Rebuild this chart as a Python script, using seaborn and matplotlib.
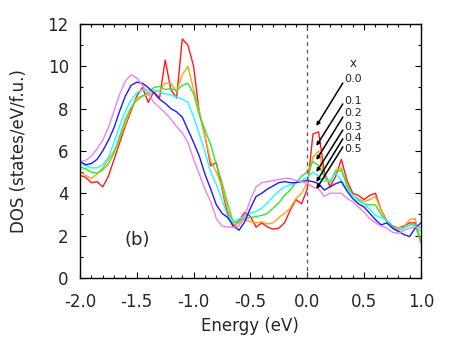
import numpy as np
import pandas as pd
import matplotlib
matplotlib.use('Agg')
import matplotlib.pyplot as plt
from matplotlib.ticker import MultipleLocator, FormatStrFormatter
import seaborn as sns

# energia (eV), paso 0.05
energy = np.round(np.arange(-2.0, 1.0001, 0.05), 2)

dos_00 = [4.85, 4.75, 4.5, 4.55, 4.3, 4.8, 5.6, 6.4, 7.2, 7.9,
          8.6, 9.0, 8.3, 8.8, 8.5, 10.3, 8.9, 8.5, 11.3, 11.0,
          10.0, 7.8, 6.7, 5.3, 5.45, 4.2, 3.0, 2.4, 2.7, 3.1,
          2.9, 2.4, 2.6, 2.4, 2.3, 2.35, 2.6, 3.2, 3.7, 3.5,
          4.2, 6.8, 6.9, 5.0, 4.3, 4.8, 5.6, 4.6, 4.0, 3.9,
          3.7, 3.9, 4.0, 3.2, 2.7, 2.45, 2.35, 2.45, 2.6, 2.6,
          1.7]
dos_01 = [5.0, 4.85, 4.7, 4.9, 5.2, 5.6, 6.0, 6.6, 7.3, 8.0,
          8.5, 8.6, 8.65, 8.8, 8.85, 9.2, 9.2, 8.8, 9.6, 10.0,
          8.9, 7.9, 6.7, 5.5, 5.0, 4.3, 3.2, 2.5, 2.6, 2.75,
          2.65, 2.6, 2.65, 2.55, 2.6, 2.85, 3.05, 3.3, 3.75, 4.0,
          4.5, 5.7, 6.0, 4.7, 4.5, 5.1, 5.2, 4.3, 3.9, 3.75,
          3.6, 3.7, 3.85, 3.2, 2.65, 2.4, 2.35, 2.4, 2.75, 2.8,
          1.7]
dos_02 = [5.25, 5.15, 5.0, 4.95, 5.1, 5.4, 5.9, 6.7, 7.5, 8.05,
          8.4, 8.6, 8.75, 9.0, 9.05, 8.9, 8.95, 8.85, 9.1, 9.2,
          8.7, 7.7, 7.0, 6.3, 5.35, 4.5, 3.5, 2.6, 2.7, 2.8,
          2.85, 2.9, 2.95, 3.05, 3.3, 3.55, 3.9, 4.15, 4.5, 4.8,
          5.0, 5.5, 5.3, 4.8, 4.55, 5.0, 5.1, 4.4, 3.9, 3.65,
          3.5, 3.45, 3.45, 3.0, 2.65, 2.35, 2.2, 2.4, 2.5, 2.5,
          1.65]
dos_03 = [5.4, 5.3, 5.2, 5.2, 5.35, 5.7, 6.4, 7.2, 7.9, 8.4,
          8.75, 8.9, 8.9, 8.9, 8.8, 8.7, 8.65, 8.55, 8.45, 8.3,
          7.6, 6.8, 5.95, 5.0, 4.4, 3.7, 2.9, 2.65, 2.8, 2.9,
          3.05, 3.15, 3.3, 3.55, 3.85, 4.1, 4.3, 4.4, 4.5, 4.6,
          4.75, 5.0, 4.8, 4.55, 4.6, 4.95, 4.6, 4.2, 3.9, 3.7,
          3.5, 3.25, 2.95, 2.85, 2.7, 2.4, 2.25, 2.35, 2.5, 2.45,
          2.2]
dos_04 = [5.5, 5.35, 5.4, 5.6, 6.0, 6.5, 7.1, 7.9, 8.6, 9.1,
          9.25, 9.2, 9.0, 8.75, 8.45, 8.25, 8.0, 7.85, 7.6, 7.0,
          6.4, 5.75, 4.9, 4.2, 3.45, 3.05, 2.85, 2.45, 2.25, 2.65,
          3.3, 3.85, 4.0, 4.2, 4.35, 4.5, 4.55, 4.5, 4.5, 4.55,
          4.6, 4.55, 4.45, 4.15, 4.3, 4.45, 4.55, 4.1, 3.75, 3.5,
          3.35, 3.05, 2.75, 2.5, 2.6, 2.35, 2.2, 2.05, 1.95, 2.35,
          2.6]
dos_05 = [5.5, 5.55, 5.75, 6.1, 6.5, 7.1, 7.9, 8.7, 9.3, 9.6,
          9.45, 9.1, 8.7, 8.3, 8.05, 7.8, 7.5, 7.15, 6.85, 6.4,
          5.6, 4.9, 4.2, 3.6, 2.8, 2.45, 2.4, 2.4, 2.45, 2.95,
          3.7, 4.3, 4.5, 4.55, 4.6, 4.65, 4.7, 4.7, 4.6, 4.55,
          4.45, 4.3, 4.2, 3.85, 4.0, 4.0, 4.0, 3.75, 3.6, 3.35,
          3.1, 2.8, 2.6, 2.45, 2.35, 2.15, 2.1, 2.25, 2.35, 2.4,
          2.4]

x_labels = ['0.0', '0.1', '0.2', '0.3', '0.4', '0.5']
colores = ['#ff1a1a', '#ffa31a', '#33e633', '#1affff', '#1a1aff', '#ee82ee']

# flechas de las etiquetas (cola -> punta) y posicion del texto
tail_y = [9.21, 8.22, 7.6, 6.99, 6.57, 6.19]
head_y = [7.18, 6.24, 5.57, 5.0, 4.53, 4.2]
text_y = [9.4, 8.36, 7.8, 7.15, 6.6, 6.1]

series = [dos_00, dos_01, dos_02, dos_03, dos_04, dos_05]
df = pd.concat([pd.DataFrame({'Energy': energy, 'DOS': s, 'x': lab})
                for s, lab in zip(series, x_labels)], ignore_index=True)

sns.set_style('ticks')
plt.rcParams['font.family'] = ['DejaVu Sans']
plt.rcParams['axes.unicode_minus'] = False

fig = plt.figure(figsize=(4.57, 3.43), dpi=100)
ax = fig.add_axes([0.175, 0.19, 0.746, 0.74])

sns.lineplot(data=df, x='Energy', y='DOS', hue='x', palette=colores,
             linewidth=1.0, legend=False, ax=ax)

ax.axvline(0.0, color='#555555', linestyle=(0, (3, 3)), linewidth=0.9)

for t, h, ty, lab in zip(tail_y, head_y, text_y, x_labels):
    ax.annotate('', xy=(0.08, h), xytext=(0.313, t),
                arrowprops=dict(arrowstyle='-|>', color='black', lw=1.1,
                                mutation_scale=5, shrinkA=0, shrinkB=0))
    ax.text(0.322, ty, lab, fontsize=8, va='center', ha='left')
ax.text(0.40, 10.15, 'x', fontsize=8.5, va='center', ha='center')
ax.text(-1.5, 1.8, '(b)', fontsize=13, va='center', ha='center')

ax.set_xlim(-2.0, 1.0)
ax.set_ylim(0, 12)
ax.xaxis.set_major_locator(MultipleLocator(0.5))
ax.xaxis.set_minor_locator(MultipleLocator(0.1))
ax.yaxis.set_major_locator(MultipleLocator(2))
ax.yaxis.set_minor_locator(MultipleLocator(1))
ax.xaxis.set_major_formatter(FormatStrFormatter('%.1f'))
ax.tick_params(which='both', direction='in', top=True, right=True,
               labelsize=12, color='black')
ax.tick_params(which='major', length=4.5, width=0.8)
ax.tick_params(which='minor', length=2.2, width=0.8)
ax.tick_params(axis='x', which='major', pad=11)
ax.tick_params(axis='y', which='major', pad=8)
for sp in ax.spines.values():
    sp.set_visible(True)
    sp.set_color('black')
    sp.set_linewidth(1.0)

ax.set_xlabel('Energy (eV)', fontsize=12, labelpad=4)
ax.set_ylabel('DOS (states/eV/f.u.)', fontsize=12, labelpad=14)

fig.savefig('out.png', dpi=100)
